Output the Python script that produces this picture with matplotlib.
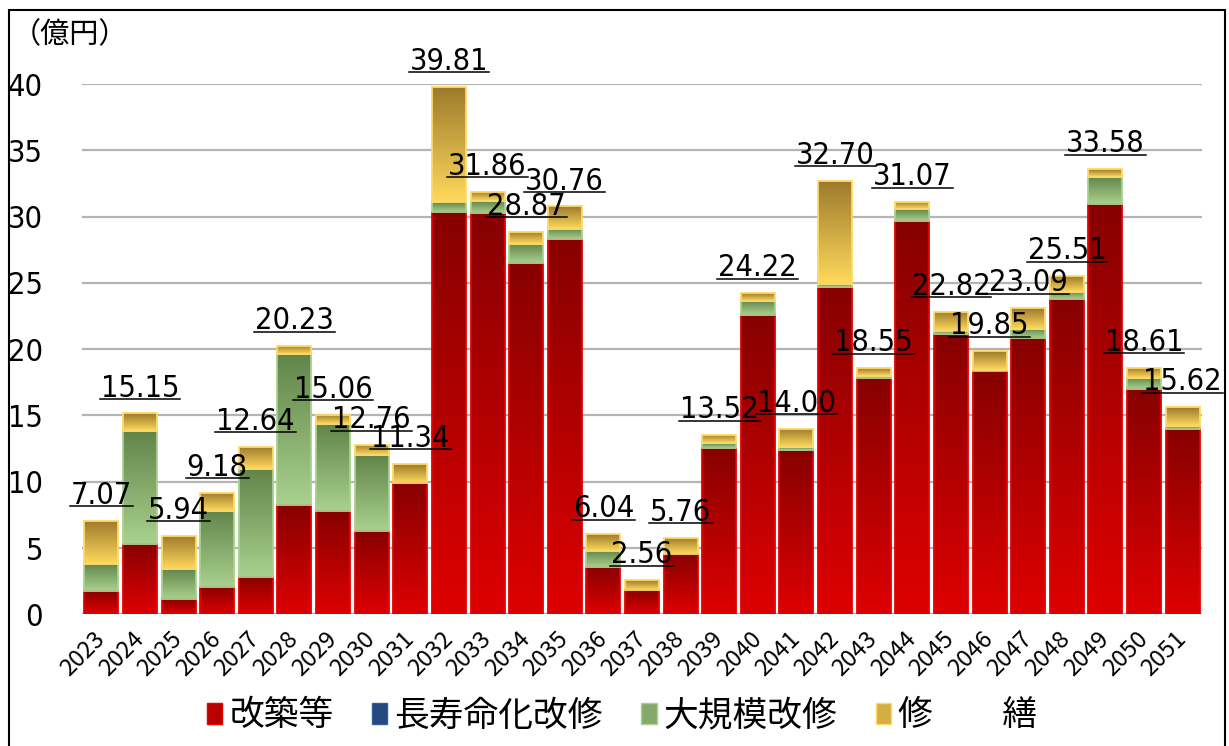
import numpy as np
import matplotlib
matplotlib.use("Agg")
import matplotlib.pyplot as plt
from matplotlib.colors import LinearSegmentedColormap
from matplotlib.patches import Patch, Rectangle
from matplotlib.lines import Line2D

# 年度別の更新費用（億円）
years = [str(y) for y in range(2023, 2052)]
totals = [7.07, 15.15, 5.94, 9.18, 12.64, 20.23, 15.06, 12.76, 11.34, 39.81,
          31.86, 28.87, 30.76, 6.04, 2.56, 5.76, 13.52, 24.22, 14.00, 32.70,
          18.55, 31.07, 22.82, 19.85, 23.09, 25.51, 33.58, 18.61, 15.62]
rebuild = [1.74, 5.34, 1.13, 2.04, 2.84, 8.25, 7.80, 6.29, 9.93, 30.36,
           30.27, 26.50, 28.28, 3.55, 1.86, 4.55, 12.56, 22.54, 12.43, 24.70,
           17.86, 29.64, 21.18, 18.34, 20.84, 23.80, 30.92, 16.96, 14.00]
longlife = [0.0] * 29
major = [2.06, 8.49, 2.27, 5.76, 8.10, 11.35, 6.56, 5.69, 0.00, 0.71,
         0.90, 1.46, 0.82, 1.25, 0.00, 0.00, 0.34, 1.10, 0.17, 0.20,
         0.14, 0.90, 0.16, 0.09, 0.68, 0.53, 2.08, 0.87, 0.20]
# 修繕 = 合計 - その他
repair = [t - a - b - c for t, a, b, c in zip(totals, rebuild, longlife, major)]

labels = ["改築等", "長寿命化改修", "大規模改修", "修\u3000\u3000繕"]

W, H = 1229, 746
fig = plt.figure(figsize=(W / 100, H / 100), dpi=100)
ax = fig.add_axes([82 / W, (H - 614.3) / H, 1120 / W, 530.3 / H])

NUM_FONT = dict(family="DejaVu Sans", stretch="condensed")
JP_FONT = ["Noto Sans CJK JP", "DejaVu Sans"]

x = np.arange(len(years))
bw = 0.88

# (上端色, 下端色, 枠線色)
styles = [
    ("#870000", "#DE0000", "#E60000"),
    ("#17375E", "#2E5C9E", "#2E5C9E"),
    ("#62844A", "#A9D18E", "#A9D18E"),
    ("#9C7A2C", "#FFD95C", "#FFD966"),
]

grad = np.linspace(0, 1, 128).reshape(-1, 1)
bottom = np.zeros(len(years))
for vals, (ctop, cbot, cedge) in zip([rebuild, longlife, major, repair], styles):
    vals = np.array(vals)
    bars = ax.bar(x, vals, bw, bottom=bottom, facecolor="none",
                  edgecolor=cedge, linewidth=1.3, zorder=3)
    cmap = LinearSegmentedColormap.from_list("g", [cbot, ctop])
    for rect, v in zip(bars, vals):
        if v <= 0.001:
            rect.set_visible(False)
            continue
        x0, y0 = rect.get_x(), rect.get_y()
        im = ax.imshow(grad, cmap=cmap, origin="lower", aspect="auto",
                       interpolation="bilinear", zorder=2,
                       extent=(x0, x0 + rect.get_width(), y0, y0 + rect.get_height()))
        im.set_clip_path(rect)
    bottom += vals

ax.set_xlim(-0.5, len(years) - 0.5)
ax.set_ylim(0, 40)
ax.set_yticks(range(0, 41, 5))
ax.yaxis.grid(True, color="#B4B4B4", linewidth=1.6, zorder=0)
ax.set_axisbelow(True)
for s in ax.spines.values():
    s.set_visible(False)
ax.tick_params(axis="y", length=0, pad=28)
for t in ax.get_yticklabels():
    t.set_fontfamily(NUM_FONT["family"])
    t.set_fontstretch(NUM_FONT["stretch"])
    t.set_fontsize(22)

ax.set_xticks(x)
ax.set_xticklabels(years, rotation=45, ha="right", va="center",
                   rotation_mode="anchor", fontsize=17, family=JP_FONT)
ax.tick_params(axis="x", length=0, pad=15)

fig.text(12 / W, 1 - 35 / H, "（億円）", fontsize=21, family=JP_FONT,
         ha="left", va="center")

# 合計値ラベル（下線付き）
value_texts = []
for xi, t in zip(x, totals):
    txt = ax.annotate(f"{t:.2f}", (xi, t), xytext=(0, 12.2),
                      textcoords="offset points", ha="center", va="baseline",
                      fontsize=22, annotation_clip=False, zorder=5,
                      **NUM_FONT)
    value_texts.append(txt)

fig.canvas.draw()
renderer = fig.canvas.get_renderer()
for xi, t, txt in zip(x, totals, value_texts):
    bb = txt.get_window_extent(renderer)
    _, ybase = ax.transData.transform((xi, t))
    yl = ybase + 17 - 2.5
    fig.add_artist(Line2D([(bb.x0 - 1) / W, (bb.x1 + 1) / W], [yl / H, yl / H],
                          transform=fig.transFigure, color="black",
                          linewidth=1.1))

handles = [
    Patch(facecolor="#B80000", edgecolor="#E60000", linewidth=1.0),
    Patch(facecolor="#24487F", edgecolor="#2E5C9E", linewidth=1.0),
    Patch(facecolor="#86A86A", edgecolor="#A9D18E", linewidth=1.0),
    Patch(facecolor="#D4AE40", edgecolor="#FFD966", linewidth=1.0),
]
fig.legend(handles, labels, loc="center", bbox_to_anchor=(622 / W, 1 - 716 / H),
           ncol=4, frameon=False, prop={"family": JP_FONT, "size": 25},
           handlelength=0.45, handleheight=0.55, handletextpad=0.2,
           columnspacing=1.1)

# 外枠
fig.add_artist(Rectangle((8.5 / W, -0.01), (1225 - 8.5) / W, 1.01 - 9.5 / H,
                         transform=fig.transFigure, fill=False,
                         edgecolor="black", linewidth=1.5))

fig.savefig("out.png", dpi=100)
